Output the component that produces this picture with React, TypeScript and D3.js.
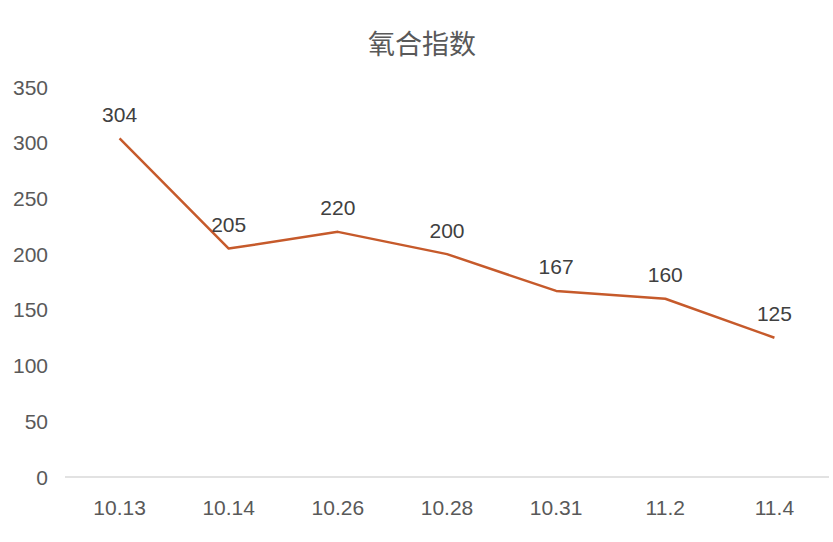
import React from "react";
import * as d3 from "d3";

const title = "氧合指数";
const dates = ["10.13", "10.14", "10.26", "10.28", "10.31", "11.2", "11.4"];
const values = [304, 205, 220, 200, 167, 160, 125];
const yTicks = [0, 50, 100, 150, 200, 250, 300, 350];

const W = 833;
const H = 542;
const margin = { left: 65, right: 4, top: 87, bottom: 65 };

export default function App() {
  const x = d3
    .scaleBand<string>()
    .domain(dates)
    .range([margin.left, W - margin.right]);
  const y = d3
    .scaleLinear()
    .domain([0, 350])
    .range([H - margin.bottom, margin.top]);

  const line = d3
    .line<number>()
    .x((_, i) => (x(dates[i]) as number) + x.bandwidth() / 2)
    .y((d) => y(d));

  const numFont = "'Liberation Sans', Arial, sans-serif";
  const textColor = "#595959";

  return (
    <svg
      width={W}
      height={H}
      style={{ position: "absolute", left: 0, top: 0, background: "#fff" }}
    >
      <text
        x={422}
        y={42}
        textAnchor="middle"
        dominantBaseline="central"
        fontFamily="'Noto Sans CJK SC', sans-serif"
        fontSize={27}
        fill={textColor}
      >
        {title}
      </text>

      {yTicks.map((t) => (
        <text
          key={t}
          x={48}
          y={y(t)}
          textAnchor="end"
          dominantBaseline="central"
          fontFamily={numFont}
          fontSize={21}
          fill={textColor}
        >
          {t}
        </text>
      ))}

      <line
        x1={margin.left}
        x2={W - margin.right}
        y1={y(0)}
        y2={y(0)}
        stroke="#d9d9d9"
        strokeWidth={1.5}
      />

      {dates.map((d) => (
        <text
          key={d}
          x={(x(d) as number) + x.bandwidth() / 2}
          y={507}
          textAnchor="middle"
          dominantBaseline="central"
          fontFamily={numFont}
          fontSize={21}
          fill={textColor}
        >
          {d}
        </text>
      ))}

      <path
        d={line(values) || ""}
        fill="none"
        stroke="#c65a2b"
        strokeWidth={2.5}
        strokeLinejoin="round"
      />

      {values.map((v, i) => (
        <text
          key={i}
          x={(x(dates[i]) as number) + x.bandwidth() / 2}
          y={y(v) - 24}
          textAnchor="middle"
          dominantBaseline="central"
          fontFamily={numFont}
          fontSize={21}
          fill="#404040"
        >
          {v}
        </text>
      ))}
    </svg>
  );
}
